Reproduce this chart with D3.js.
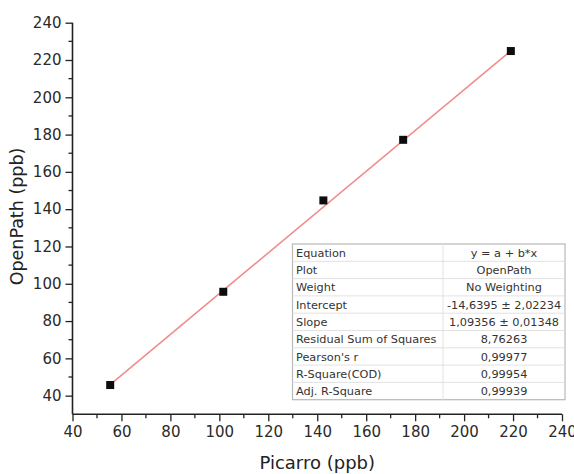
<!DOCTYPE html>
<html>
<head>
<meta charset="utf-8">
<script src="https://cdn.jsdelivr.net/npm/d3@7"></script>
<style>
  html, body { margin: 0; padding: 0; background: #fff; }
  svg { display: block; }
  text { font-family: "DejaVu Sans", sans-serif; }
</style>
</head>
<body>
<svg id="chart" width="574" height="474"></svg>
<script>
// ---- data ----
const picarro  = [55.4, 101.6, 142.5, 175.1, 219.1];
const openPath = [45.7, 95.7, 144.7, 177.2, 224.8];
const fitIntercept = -14.6395;
const fitSlope = 1.09356;
const xTicks = [40, 60, 80, 100, 120, 140, 160, 180, 200, 220, 240];
const yTicks = [40, 60, 80, 100, 120, 140, 160, 180, 200, 220, 240];
const statLabels = ["Equation", "Plot", "Weight", "Intercept", "Slope",
  "Residual Sum of Squares", "Pearson's r", "R-Square(COD)", "Adj. R-Square"];
const statValues = ["y = a + b*x", "OpenPath", "No Weighting",
  "-14,6395 \u00b1 2,02234", "1,09356 \u00b1 0,01348", "8,76263",
  "0,99977", "0,99954", "0,99939"];

// ---- layout ----
const svg = d3.select("#chart");
const pLeft = 72.5, pRight = 562, pTop = 22.7, pBottom = 414.3;
const x = d3.scaleLinear().domain([40, 240]).range([pLeft, pRight]);
const y = d3.scaleLinear().domain([30, 240]).range([pBottom, pTop]);
const axisColor = "#222";

// regression line
const xs = d3.extent(picarro);
svg.append("line")
  .attr("x1", x(xs[0])).attr("y1", y(fitIntercept + fitSlope * xs[0]))
  .attr("x2", x(xs[1])).attr("y2", y(fitIntercept + fitSlope * xs[1]))
  .attr("stroke", "#ef8a8a").attr("stroke-width", 1.5);

// points
svg.append("g").selectAll("rect").data(picarro).join("rect")
  .attr("x", (d) => x(d) - 4)
  .attr("y", (d, i) => y(openPath[i]) - 4)
  .attr("width", 8).attr("height", 8)
  .attr("fill", "#0d0d0d");

// x axis
const xMinor = d3.range(50, 240, 20);
const gx = svg.append("g").attr("transform", `translate(0,${pBottom})`);
gx.call(d3.axisBottom(x).tickValues(xTicks).tickSize(7).tickPadding(5).tickFormat(d3.format("d")));
gx.append("g").selectAll("line").data(xMinor).join("line")
  .attr("x1", (d) => x(d)).attr("x2", (d) => x(d))
  .attr("y1", 0).attr("y2", 4)
  .attr("stroke", axisColor).attr("stroke-width", 1.3);

// y axis
const yMinor = d3.range(50, 240, 20);
const gy = svg.append("g").attr("transform", `translate(${pLeft},0)`);
gy.call(d3.axisLeft(y).tickValues(yTicks).tickSize(7).tickPadding(4).tickFormat(d3.format("d")));
gy.append("g").selectAll("line").data(yMinor).join("line")
  .attr("y1", (d) => y(d)).attr("y2", (d) => y(d))
  .attr("x1", 0).attr("x2", -4)
  .attr("stroke", axisColor).attr("stroke-width", 1.3);

[gx, gy].forEach((g) => {
  g.select(".domain").attr("stroke", axisColor).attr("stroke-width", 1.6);
  g.selectAll(".tick line").attr("stroke", axisColor).attr("stroke-width", 1.3);
  g.selectAll(".tick text").attr("fill", "#2a2a2a")
    .style("font-family", "'DejaVu Sans', sans-serif").style("font-size", "15px");
});
gx.select(".domain").attr("d", `M${pLeft},0H${pRight}`);
gy.select(".domain").attr("d", `M0,${pBottom}V${pTop}`);

// axis titles
svg.append("text")
  .attr("x", (pLeft + pRight) / 2).attr("y", 469)
  .attr("text-anchor", "middle").attr("fill", "#222")
  .style("font-size", "18px").text("Picarro (ppb)");
svg.append("text")
  .attr("transform", `translate(23,216.5) rotate(-90)`)
  .attr("text-anchor", "middle").attr("fill", "#222")
  .style("font-size", "17.5px").text("OpenPath (ppb)");

// stats table
const tx0 = 292.5, tx1 = 443, tx2 = 565, ty0 = 244, rowH = 17.3;
const tbl = svg.append("g");
tbl.append("rect")
  .attr("x", tx0).attr("y", ty0)
  .attr("width", tx2 - tx0).attr("height", rowH * statLabels.length)
  .attr("fill", "#fff").attr("stroke", "#b8b8b8").attr("stroke-width", 1.2);
tbl.selectAll("line.row").data(d3.range(1, statLabels.length)).join("line")
  .attr("class", "row")
  .attr("x1", tx0).attr("x2", tx2)
  .attr("y1", (d) => ty0 + d * rowH).attr("y2", (d) => ty0 + d * rowH)
  .attr("stroke", "#e2e2e2").attr("stroke-width", 1);
tbl.append("line")
  .attr("x1", tx1).attr("x2", tx1).attr("y1", ty0).attr("y2", ty0 + rowH * statLabels.length)
  .attr("stroke", "#e2e2e2").attr("stroke-width", 1);
tbl.selectAll("text.lab").data(statLabels).join("text")
  .attr("class", "lab")
  .attr("x", tx0 + 3.5).attr("y", (d, i) => ty0 + i * rowH + rowH / 2)
  .attr("dy", "0.36em").attr("fill", "#333")
  .style("font-size", "11.3px").text((d) => d);
tbl.selectAll("text.val").data(statValues).join("text")
  .attr("class", "val")
  .attr("x", (tx1 + tx2) / 2).attr("y", (d, i) => ty0 + i * rowH + rowH / 2)
  .attr("dy", "0.36em").attr("text-anchor", "middle").attr("fill", "#333")
  .style("font-size", "11.3px").text((d) => d);
</script>
</body>
</html>
